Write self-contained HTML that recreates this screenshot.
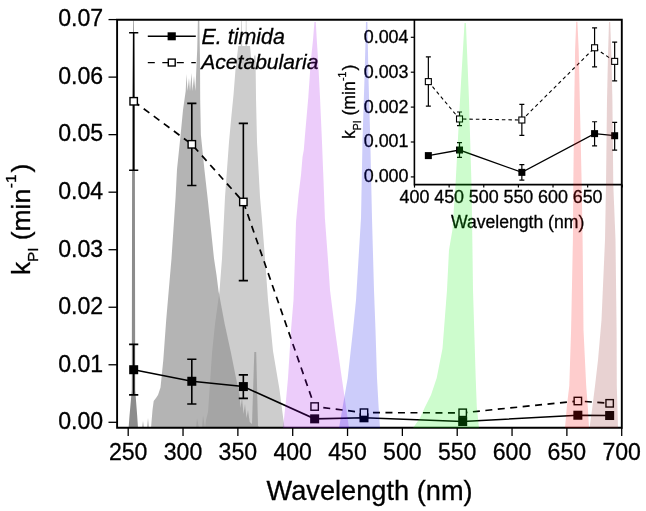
<!DOCTYPE html>
<html><head><meta charset="utf-8"><style>
html,body{margin:0;padding:0;background:#fff;}
svg{display:block;font-family:"Liberation Sans",sans-serif;will-change:transform;}
text{stroke:#000;stroke-width:0.3px;}
</style></head><body>
<svg width="646" height="511" viewBox="0 0 646 511">
<rect x="0" y="0" width="646" height="511" fill="#fff"/>
<polygon points="196,428 197,418 199,428 202,428 203,415 205,428 206,420 208,412 210,383 212,353 215,324 219.5,291 222,258.5 225,197 229,142 231.5,115 233.5,95 235.5,69.6 238.3,46 240.8,46 241.1,21 241.8,21 242.2,46 245.6,46 245.8,21 246.5,21 246.8,46 250,46 252.3,69.6 253.5,69.6 254.2,55.5 255.5,55.5 256,98 257,142 260,197 262,220 265,258.5 268,300 273,351 279.4,389 284.5,428" fill="#cdcdcd" />
<polygon points="142,428 143,421 144,428 147,428 148,418 149,428 151,428 152.5,410 153.7,401 156,398 158,395 160.5,387.4 163.3,360 166.2,320 171.5,258.5 175.6,197 177,169.6 180.6,135 183,110 185.7,91 186.5,74 187.5,91 189,78 190,91 191.5,73 192.5,91 194,76 195.4,91 196.2,72 197.2,50 197.9,20.5 199.3,20.5 200,60 200.2,100 200.9,135 204.4,169.6 207.5,197 211,230 214,258.5 216.5,275 218.5,291 224.7,324 231,353 237,383 239.5,395 240.5,408 242,398 243.5,414 245,404 246.5,418 248,410 249.7,422 252,424 254.3,352 256.2,352 258,426 260,428" fill="#949494" fill-opacity="0.7"/>
<polygon points="128.6,428 129.5,416 131.8,390 132.2,100 133.2,20.5 133.8,20.5 134.8,100 135.2,390 137.2,416 138,428" fill="#8c8c8c" />
<polyline points="133.68,369.72 191.81,381.28 243.35,386.57 314.64,418.85 363.99,417.81 462.69,421.55 577.85,415.22 609.65,415.51" fill="none" stroke="#000" stroke-width="1.6"/>
<polyline points="133.68,101.28 191.81,144.32 243.35,201.96 314.64,406.54 363.99,412.69 462.69,412.81 577.85,401.01 609.65,403.32" fill="none" stroke="#000" stroke-width="1.7" stroke-dasharray="7 5.5"/>
<path d="M133.68 344.4V394.86M129.08 344.4H138.28M129.08 394.86H138.28" stroke="#000" stroke-width="1.6" fill="none"/>
<path d="M191.81 359.3V404.01M187.21 359.3H196.41M187.21 404.01H196.41" stroke="#000" stroke-width="1.6" fill="none"/>
<path d="M243.35 374.84V398.37M238.75 374.84H247.95M238.75 398.37H247.95" stroke="#000" stroke-width="1.6" fill="none"/>
<path d="M133.68 32.82V170.32M129.08 32.82H138.28M129.08 170.32H138.28" stroke="#000" stroke-width="1.6" fill="none"/>
<path d="M191.81 103.35V185.56M187.21 103.35H196.41M187.21 185.56H196.41" stroke="#000" stroke-width="1.6" fill="none"/>
<path d="M243.35 123.37V280.66M238.75 123.37H247.95M238.75 280.66H247.95" stroke="#000" stroke-width="1.6" fill="none"/>
<rect x="129.18" y="365.22" width="9" height="9" fill="#000"/>
<rect x="187.31" y="376.78" width="9" height="9" fill="#000"/>
<rect x="238.85" y="382.07" width="9" height="9" fill="#000"/>
<rect x="310.14" y="414.35" width="9" height="9" fill="#000"/>
<rect x="359.49" y="413.31" width="9" height="9" fill="#000"/>
<rect x="458.19" y="417.05" width="9" height="9" fill="#000"/>
<rect x="573.35" y="410.72" width="9" height="9" fill="#000"/>
<rect x="605.15" y="411.01" width="9" height="9" fill="#000"/>
<rect x="129.98" y="97.58" width="7.4" height="7.4" fill="#fff" stroke="#000" stroke-width="1.4"/>
<rect x="188.11" y="140.62" width="7.4" height="7.4" fill="#fff" stroke="#000" stroke-width="1.4"/>
<rect x="239.65" y="198.26" width="7.4" height="7.4" fill="#fff" stroke="#000" stroke-width="1.4"/>
<rect x="310.94" y="402.84" width="7.4" height="7.4" fill="#fff" stroke="#000" stroke-width="1.4"/>
<rect x="360.29" y="408.99" width="7.4" height="7.4" fill="#fff" stroke="#000" stroke-width="1.4"/>
<rect x="458.99" y="409.11" width="7.4" height="7.4" fill="#fff" stroke="#000" stroke-width="1.4"/>
<rect x="574.15" y="397.31" width="7.4" height="7.4" fill="#fff" stroke="#000" stroke-width="1.4"/>
<rect x="605.95" y="399.62" width="7.4" height="7.4" fill="#fff" stroke="#000" stroke-width="1.4"/>
<path d="M147.8 36.3H195.8" stroke="#000" stroke-width="1.4"/>
<rect x="167.6" y="32.3" width="8.2" height="8" fill="#000"/>
<path d="M147.8 62.6H195.8" stroke="#000" stroke-width="1.4" stroke-dasharray="7 7.5"/>
<rect x="168.3" y="59.1" width="6.9" height="6.9" fill="#fff" stroke="#000" stroke-width="1.4"/>
<text x="201.6" y="43.7" font-size="21.4" font-style="italic">E. timida</text>
<text x="201.2" y="68.6" font-size="21.1" font-style="italic">Acetabularia</text>
<path d="M117.1 19.7V427.8H621.8V19.7Z" fill="none" stroke="#000" stroke-width="1.9"/>
<path d="M108.5 422.3H117.1" stroke="#000" stroke-width="1.3"/>
<text x="103.2" y="429.1" font-size="23.1" text-anchor="end">0.00</text>
<path d="M108.5 364.77H117.1" stroke="#000" stroke-width="1.3"/>
<text x="103.2" y="371.57" font-size="23.1" text-anchor="end">0.01</text>
<path d="M108.5 307.24H117.1" stroke="#000" stroke-width="1.3"/>
<text x="103.2" y="314.04" font-size="23.1" text-anchor="end">0.02</text>
<path d="M108.5 249.71H117.1" stroke="#000" stroke-width="1.3"/>
<text x="103.2" y="256.51" font-size="23.1" text-anchor="end">0.03</text>
<path d="M108.5 192.18H117.1" stroke="#000" stroke-width="1.3"/>
<text x="103.2" y="198.98" font-size="23.1" text-anchor="end">0.04</text>
<path d="M108.5 134.65H117.1" stroke="#000" stroke-width="1.3"/>
<text x="103.2" y="141.45" font-size="23.1" text-anchor="end">0.05</text>
<path d="M108.5 77.12H117.1" stroke="#000" stroke-width="1.3"/>
<text x="103.2" y="83.92" font-size="23.1" text-anchor="end">0.06</text>
<path d="M108.5 19.59H117.1" stroke="#000" stroke-width="1.3"/>
<text x="103.2" y="26.39" font-size="23.1" text-anchor="end">0.07</text>
<path d="M128.2 427.8V436" stroke="#000" stroke-width="1.3"/>
<text x="128.2" y="459.5" font-size="23.1" text-anchor="middle">250</text>
<path d="M183.03 427.8V436" stroke="#000" stroke-width="1.3"/>
<text x="183.03" y="459.5" font-size="23.1" text-anchor="middle">300</text>
<path d="M237.87 427.8V436" stroke="#000" stroke-width="1.3"/>
<text x="237.87" y="459.5" font-size="23.1" text-anchor="middle">350</text>
<path d="M292.7 427.8V436" stroke="#000" stroke-width="1.3"/>
<text x="292.7" y="459.5" font-size="23.1" text-anchor="middle">400</text>
<path d="M347.54 427.8V436" stroke="#000" stroke-width="1.3"/>
<text x="347.54" y="459.5" font-size="23.1" text-anchor="middle">450</text>
<path d="M402.38 427.8V436" stroke="#000" stroke-width="1.3"/>
<text x="402.38" y="459.5" font-size="23.1" text-anchor="middle">500</text>
<path d="M457.21 427.8V436" stroke="#000" stroke-width="1.3"/>
<text x="457.21" y="459.5" font-size="23.1" text-anchor="middle">550</text>
<path d="M512.05 427.8V436" stroke="#000" stroke-width="1.3"/>
<text x="512.05" y="459.5" font-size="23.1" text-anchor="middle">600</text>
<path d="M566.88 427.8V436" stroke="#000" stroke-width="1.3"/>
<text x="566.88" y="459.5" font-size="23.1" text-anchor="middle">650</text>
<path d="M621.71 427.8V436" stroke="#000" stroke-width="1.3"/>
<text x="621.71" y="459.5" font-size="23.1" text-anchor="middle">700</text>
<text x="369.6" y="499.6" font-size="27.2" text-anchor="middle">Wavelength (nm)</text>
<text transform="translate(29.7 275.1) rotate(-90)" font-size="26.5">k<tspan font-size="15" dy="8.7">PI</tspan><tspan dy="-8.7"> (min</tspan><tspan font-size="15.5" dy="-13.5" dx="0.5">-1</tspan><tspan dy="13.5" dx="2">)</tspan></text>
<g><polyline points="428.35,155.61 459.52,150.03 521.85,172.36 594.58,133.62 614.66,135.72" fill="none" stroke="#000" stroke-width="1.3"/><polyline points="428.35,81.62 459.52,118.97 521.85,120.01 594.58,47.77 614.66,61.38" fill="none" stroke="#000" stroke-width="1.1" stroke-dasharray="3.5 3"/><path d="M459.52 142.7V157.36M457.02 142.7H462.02M457.02 157.36H462.02" stroke="#000" stroke-width="1.2" fill="none"/><path d="M521.85 164.69V180.04M519.35 164.69H524.35M519.35 180.04H524.35" stroke="#000" stroke-width="1.2" fill="none"/><path d="M594.58 121.76V145.84M592.08 121.76H597.08M592.08 145.84H597.08" stroke="#000" stroke-width="1.2" fill="none"/><path d="M614.66 122.46V150.03M612.16 122.46H617.16M612.16 150.03H617.16" stroke="#000" stroke-width="1.2" fill="none"/><path d="M428.35 56.84V106.05M425.85 56.84H430.85M425.85 106.05H430.85" stroke="#000" stroke-width="1.2" fill="none"/><path d="M459.52 111.99V125.6M457.02 111.99H462.02M457.02 125.6H462.02" stroke="#000" stroke-width="1.2" fill="none"/><path d="M521.85 104.31V135.37M519.35 104.31H524.35M519.35 135.37H524.35" stroke="#000" stroke-width="1.2" fill="none"/><path d="M594.58 27.88V66.97M592.08 27.88H597.08M592.08 66.97H597.08" stroke="#000" stroke-width="1.2" fill="none"/><path d="M614.66 42.19V80.93M612.16 42.19H617.16M612.16 80.93H617.16" stroke="#000" stroke-width="1.2" fill="none"/><rect x="424.85" y="152.11" width="7" height="7" fill="#000"/><rect x="456.02" y="146.53" width="7" height="7" fill="#000"/><rect x="518.35" y="168.86" width="7" height="7" fill="#000"/><rect x="591.08" y="130.12" width="7" height="7" fill="#000"/><rect x="611.16" y="132.22" width="7" height="7" fill="#000"/><rect x="425.35" y="78.62" width="6" height="6" fill="#fff" stroke="#000" stroke-width="1.1"/><rect x="456.52" y="115.97" width="6" height="6" fill="#fff" stroke="#000" stroke-width="1.1"/><rect x="518.85" y="117.01" width="6" height="6" fill="#fff" stroke="#000" stroke-width="1.1"/><rect x="591.58" y="44.77" width="6" height="6" fill="#fff" stroke="#000" stroke-width="1.1"/><rect x="611.66" y="58.38" width="6" height="6" fill="#fff" stroke="#000" stroke-width="1.1"/></g>
<path d="M414.4 19.7V184.6H621.8" fill="none" stroke="#000" stroke-width="1.6"/>
<path d="M410.8 176.9H414.4" stroke="#000" stroke-width="1.2"/>
<text x="408.5" y="182.3" font-size="17.9" text-anchor="end">0.000</text>
<path d="M410.8 142H414.4" stroke="#000" stroke-width="1.2"/>
<text x="408.5" y="147.4" font-size="17.9" text-anchor="end">0.001</text>
<path d="M410.8 107.1H414.4" stroke="#000" stroke-width="1.2"/>
<text x="408.5" y="112.5" font-size="17.9" text-anchor="end">0.002</text>
<path d="M410.8 72.2H414.4" stroke="#000" stroke-width="1.2"/>
<text x="408.5" y="77.6" font-size="17.9" text-anchor="end">0.003</text>
<path d="M410.8 37.3H414.4" stroke="#000" stroke-width="1.2"/>
<text x="408.5" y="42.7" font-size="17.9" text-anchor="end">0.004</text>
<path d="M414.5 184.6V187.6" stroke="#000" stroke-width="1.2"/>
<text x="414.5" y="203.3" font-size="17.9" text-anchor="middle">400</text>
<path d="M449.13 184.6V187.6" stroke="#000" stroke-width="1.2"/>
<text x="449.13" y="203.3" font-size="17.9" text-anchor="middle">450</text>
<path d="M483.76 184.6V187.6" stroke="#000" stroke-width="1.2"/>
<text x="483.76" y="203.3" font-size="17.9" text-anchor="middle">500</text>
<path d="M518.39 184.6V187.6" stroke="#000" stroke-width="1.2"/>
<text x="518.39" y="203.3" font-size="17.9" text-anchor="middle">550</text>
<path d="M553.02 184.6V187.6" stroke="#000" stroke-width="1.2"/>
<text x="553.02" y="203.3" font-size="17.9" text-anchor="middle">600</text>
<path d="M587.65 184.6V187.6" stroke="#000" stroke-width="1.2"/>
<text x="587.65" y="203.3" font-size="17.9" text-anchor="middle">650</text>
<path d="M622.28 184.6V187.6" stroke="#000" stroke-width="1.2"/>
<text x="517.6" y="227.9" font-size="17.6" text-anchor="middle">Wavelength (nm)</text>
<text transform="translate(355 139) rotate(-90)" font-size="17.6">k<tspan font-size="10.4" dy="5.6">PI</tspan><tspan dy="-5.6"> (min</tspan><tspan font-size="10.4" dy="-9" dx="0.3">-1</tspan><tspan dy="9" dx="1.2">)</tspan></text>
<polygon points="283,428 286,400 288,378 291,330 293.5,300 294.8,262 296,222 298.5,195 301,175 302.5,157 303.8,150 305,135 308.3,97.3 310.7,62 313,40 314.4,22 315.8,22 316.8,40 318.2,62 320,97.3 321.7,135 323.5,180 324.9,218 328,260 330,290 335,330 341.8,378 345,400 349,428" fill="rgb(160,0,230)" fill-opacity="0.2"/>
<polygon points="339,428 343,405 347.7,378 353,330 356,300 361,218 362.5,140 364.5,78 366,22 367.4,22 368.5,78 370.3,140 372,218 374,290 375.5,330 377,378 378.5,405 380,428" fill="rgb(0,0,230)" fill-opacity="0.2"/>
<polygon points="413,428 420,418 425,407 431,395 436.7,378 442.5,348.6 447,290 449,250 452.4,230 455.5,185 460,100 464.5,23 465.9,23 469,100 471.5,185 472.2,230 473,290 474.8,348.6 475.7,378 476.8,407 479,428" fill="rgb(5,240,5)" fill-opacity="0.2"/>
<polygon points="565,428 567,405 569.3,385.8 571.1,330 572.9,240 573.3,185 574.3,100 575.1,50 576.2,21.7 577.4,21.7 578.7,50 579.8,100 581.7,185 582.6,240 583.5,330 586.2,385.8 588,410 589,428" fill="rgb(250,5,5)" fill-opacity="0.2"/>
<polygon points="589.5,428 592,410 595,386 598,360 601.5,320 605,240 606,185 607,100 608,55 609,22 610.2,22 611.4,55 612.4,100 613.3,185 615.5,240 616.6,330 616.8,386 617.5,410 618,428" fill="rgb(140,30,30)" fill-opacity="0.2"/>
</svg>
</body></html>
